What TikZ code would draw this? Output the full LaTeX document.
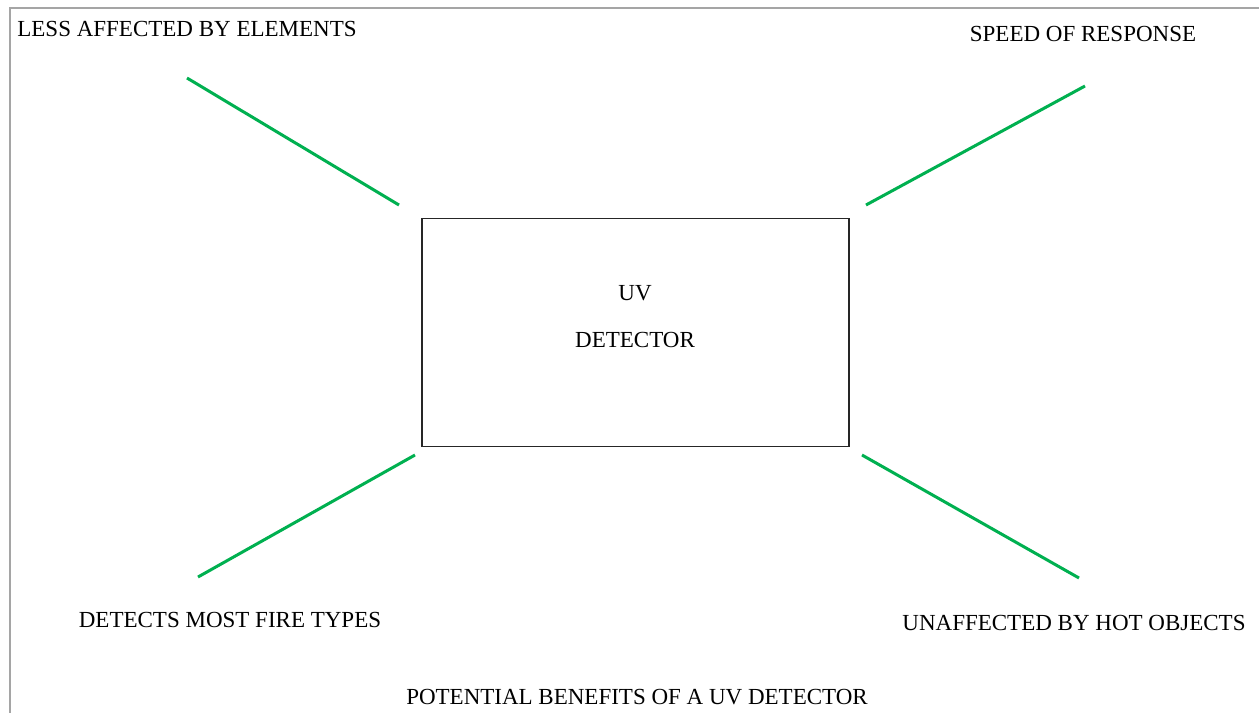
\documentclass[tikz,border=0pt]{standalone}
\usepackage{fontspec}
\setmainfont{Liberation Serif}
\definecolor{officegreen}{RGB}{0,176,80}
\definecolor{framegray}{RGB}{165,165,165}
\begin{document}
\begin{tikzpicture}[x=1pt,y=-1pt,
  lbl/.style={inner sep=0pt,font=\fontsize{23}{27}\selectfont},
  spoke/.style={draw=officegreen,line width=3pt},
  centerbox/.style={draw=black!85,line width=1.5pt}]
\useasboundingbox (0,0) rectangle (1259,713);
\fill[white] (0,0) rectangle (1259,713);
% frame (top and left edges visible)
\coordinate (fTL) at (10,8);
\coordinate (fTR) at (1259,8);
\coordinate (fBL) at (10,713);
\draw[framegray,line width=1.5pt] (fTR) -- (fTL) -- (fBL);
% centre box
\node[centerbox,minimum width=427pt,minimum height=228pt,inner sep=0pt] (box) at (635.5,332.5) {};
\node[lbl] (uv) at (635,293) {UV};
\node[lbl] (det) at (635,340) {DETECTOR};
% labels
\node[lbl] (tl) at (187,29) {LESS AFFECTED BY ELEMENTS};
\node[lbl] (tr) at (1083,34) {SPEED OF RESPONSE};
\node[lbl] (bl) at (230,620) {DETECTS MOST FIRE TYPES};
\node[lbl] (br) at (1074,623) {UNAFFECTED BY HOT OBJECTS};
\node[lbl] (title) at (637,697) {POTENTIAL BENEFITS OF A UV DETECTOR};
% spokes
\coordinate (a1) at (187,78);  \coordinate (a2) at (399,205);
\coordinate (b1) at (866,205); \coordinate (b2) at (1085,86);
\coordinate (c1) at (415,455); \coordinate (c2) at (198,577);
\coordinate (d1) at (862,455); \coordinate (d2) at (1079,578);
\draw[spoke] (a1) -- (a2);
\draw[spoke] (b1) -- (b2);
\draw[spoke] (c1) -- (c2);
\draw[spoke] (d1) -- (d2);
\end{tikzpicture}
\end{document}
